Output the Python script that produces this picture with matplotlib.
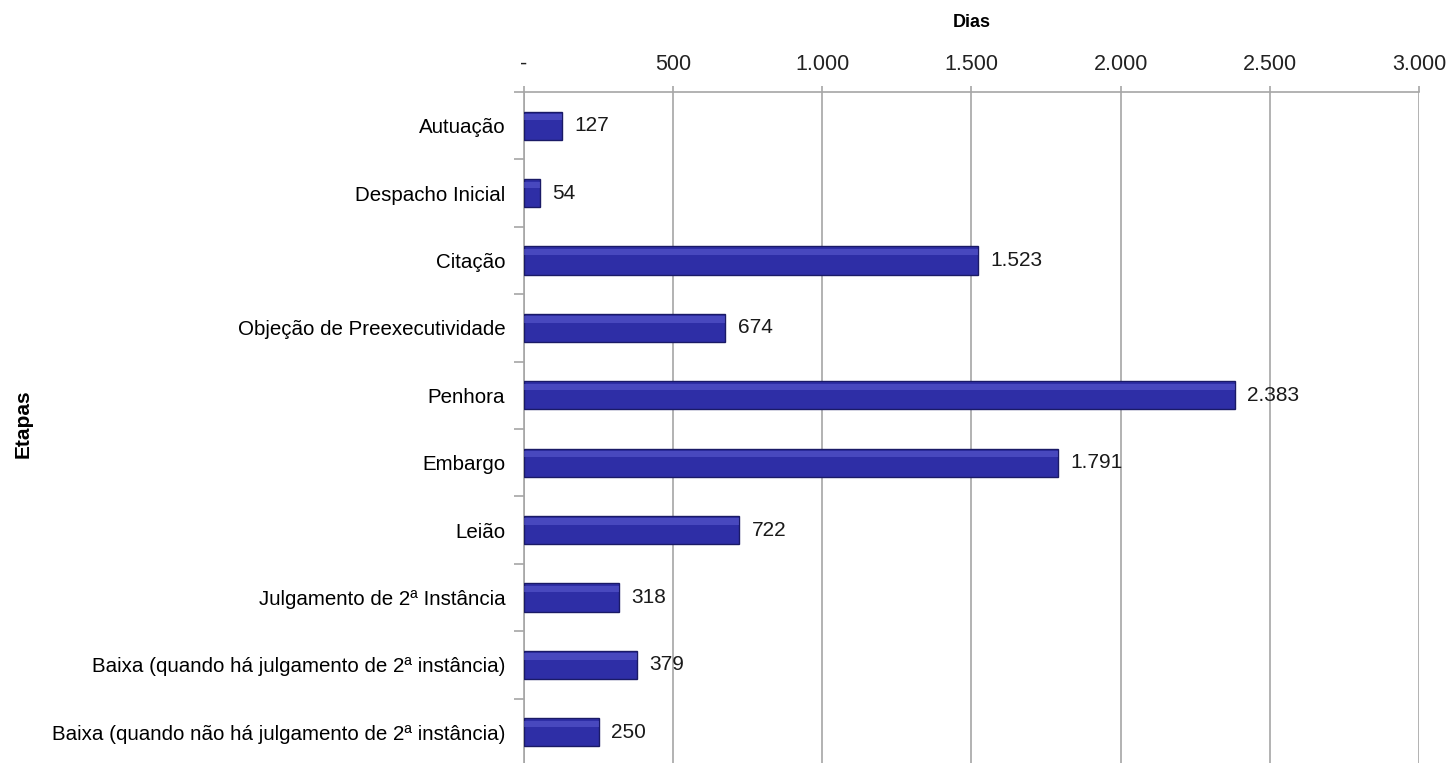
import matplotlib.pyplot as plt
import numpy as np
from matplotlib.ticker import FuncFormatter, FixedLocator

etapas = [
    "Autuação",
    "Despacho Inicial",
    "Citação",
    "Objeção de Preexecutividade",
    "Penhora",
    "Embargo",
    "Leião",
    "Julgamento de 2ª Instância",
    "Baixa (quando há julgamento de 2ª instância)",
    "Baixa (quando não há julgamento de 2ª instância)",
]
dias = [127, 54, 1523, 674, 2383, 1791, 722, 318, 379, 250]
x_ticks = [0, 500, 1000, 1500, 2000, 2500, 3000]


def fmt_pt(v, pos=None):
    if v == 0:
        return "-"
    return f"{int(round(v)):,}".replace(",", ".")


plt.rcParams["font.family"] = ["Liberation Sans", "DejaVu Sans"]

fig = plt.figure(figsize=(14.47, 7.63), dpi=100)
ax = fig.add_axes([0.3621, -0.0039, 0.6185, 0.8833])

y = np.arange(len(etapas))
bar_h = 0.42
ax.barh(y, dias, height=bar_h, color="#2e2ea6", edgecolor="#1a1a66",
        linewidth=1.0, zorder=3)
# soft light band along the top edge for the bevelled look
ax.barh(y - bar_h * 0.3, dias, height=bar_h * 0.22, color="#6262d6",
        linewidth=0, alpha=0.5, zorder=3.5)

for yi, v in zip(y, dias):
    ax.annotate(fmt_pt(v), (v, yi), xytext=(9, 0), textcoords="offset points",
                va="center", ha="left", fontsize=15, color="#1a1a1a", zorder=4)

ax.set_xlim(0, 3000)
ax.set_ylim(len(etapas) - 0.5, -0.5)
ax.xaxis.set_major_locator(FixedLocator(x_ticks))
ax.xaxis.set_major_formatter(FuncFormatter(fmt_pt))
ax.xaxis.tick_top()
ax.xaxis.set_label_position("top")
ax.tick_params(axis="x", length=4, width=1.2, color="#a6a6a6", labelsize=15.5,
               pad=8.5, labelcolor="#222222")
ax.grid(axis="x", color="#a6a6a6", linewidth=1.2, zorder=0)

ax.set_yticks(y)
ax.set_yticklabels(etapas, fontsize=14.8)
ax.set_yticks(np.arange(len(etapas) + 1) - 0.5, minor=True)
ax.tick_params(axis="y", which="major", length=0, pad=13.5)
ax.tick_params(axis="y", which="minor", length=7, color="#a6a6a6", width=1.2)

for side in ["right", "bottom"]:
    ax.spines[side].set_visible(False)
for side in ["top", "left"]:
    ax.spines[side].set_color("#a6a6a6")
    ax.spines[side].set_linewidth(1.2)

ax.set_xlabel("Dias", fontsize=13, fontweight="bold", labelpad=19)
fig.text(0.016, 0.445, "Etapas", rotation=90, fontsize=15, fontweight="bold",
         va="center", ha="center")

fig.savefig("out.png", dpi=100)
